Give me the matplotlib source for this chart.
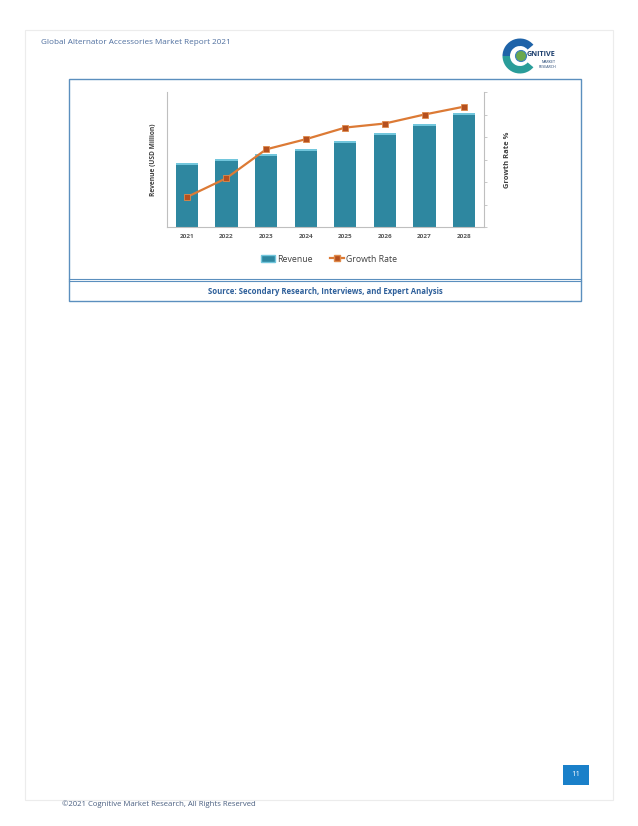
import matplotlib
matplotlib.use("Agg")
import matplotlib.pyplot as plt
from matplotlib.patches import Rectangle, Wedge, Circle, Patch
from matplotlib.lines import Line2D

plt.rcParams['font.family'] = ['Open Sans', 'DejaVu Sans']

# ---- data ----
years = ["2021", "2022", "2023", "2024", "2025", "2026", "2027", "2028"]
revenue = [64, 68, 73, 78, 86, 94, 103, 114]
growth = [1.33, 2.17, 3.45, 3.9, 4.42, 4.6, 5.0, 5.35]
header_text = "Global Alternator Accessories Market Report 2021"
source_text = "Source: Secondary Research, Interviews, and Expert Analysis"
footer_text = "\u00a92021 Cognitive Market Research, All Rights Reserved"
page_no = "11"

W, H = 638, 826
fig = plt.figure(figsize=(W / 100, H / 100), dpi=100)
fig.patch.set_facecolor("white")

# page overlay axes in pixel coordinates
pg = fig.add_axes([0, 0, 1, 1])
pg.set_xlim(0, W)
pg.set_ylim(H, 0)
pg.axis("off")

# page border
pg.add_patch(Rectangle((25, 30), 588, 770, fill=False, edgecolor="#ececec", lw=0.8))
# header text
pg.text(41, 43, header_text, fontsize=5.9, color="#4f6f9f", va="center", ha="left")

# logo (y axis inverted -> angles mirrored)
cx, cy = 520, 56
pg.add_patch(Wedge((cx, cy), 17.5, 40, 180, width=7.5, facecolor="#2a9d9a", edgecolor="none"))
pg.add_patch(Wedge((cx, cy), 17.5, 180, 320, width=7.5, facecolor="#1f63a8", edgecolor="none"))
pg.add_patch(Circle((cx + 1, cy), 5.5, facecolor="#6aa84f", edgecolor="#3a7fc0", lw=0.8))
pg.text(527, 55, "GNITIVE", fontsize=5.2, fontweight="bold", color="#1c3f6e", va="center", ha="left")
pg.text(556, 62, "MARKET", fontsize=2.6, color="#1c3f6e", va="center", ha="right")
pg.text(556, 66.5, "RESEARCH", fontsize=2.6, color="#1c3f6e", va="center", ha="right")

# chart box
box_col = "#5b8fbe"
pg.add_patch(Rectangle((69, 79), 512, 222, fill=False, edgecolor=box_col, lw=1.0))
pg.plot([69, 581], [279, 279], color=box_col, lw=0.8)
pg.plot([69, 581], [281, 281], color=box_col, lw=0.8)
pg.text(325, 291, source_text, fontsize=5.6, fontweight="bold", color="#2d5f9a",
        ha="center", va="center")

# page number box
pg.add_patch(Rectangle((563, 765), 26, 20, facecolor="#1a80c9", edgecolor="none"))
pg.text(576, 775, page_no, fontsize=5.5, color="white", ha="center", va="center")

# footer
pg.text(62, 804, footer_text, fontsize=5.6, color="#4a5f80", ha="left", va="center")

# ---- chart ----
ax = fig.add_axes([167 / W, 1 - 227 / H, 317 / W, 135 / H])
x = list(range(len(years)))
bar_col = "#2e87a0"
cap_col = "#72c6dc"
ax.bar(x, revenue, width=0.56, color=bar_col, zorder=2)
cap = 2.0
ax.bar(x, [cap] * len(revenue), width=0.56, bottom=[r - cap for r in revenue],
       color=cap_col, zorder=3)
ax.set_xlim(-0.5, len(years) - 0.5)
ax.set_ylim(0, 135)
ax.set_xticks(x)
ax.set_xticklabels(years, fontsize=4.6, color="#595959", fontweight="bold")
ax.tick_params(axis="x", length=0, pad=5)
ax.set_yticks([])
for s in ["top", "right"]:
    ax.spines[s].set_visible(False)
ax.spines["left"].set_color("#bfbfbf")
ax.spines["bottom"].set_color("#bfbfbf")
ax.set_ylabel("Revenue (USD Million)", fontsize=4.8, fontweight="bold", color="#404040", labelpad=7)

ax2 = ax.twinx()
line_col = "#dc7a35"
ax2.plot(x, growth, color=line_col, lw=1.6, marker="s", markersize=4.3,
         markerfacecolor="#b5501f", markeredgecolor="#e08a4a", markeredgewidth=0.6, zorder=4)
ax2.set_ylim(0, 6)
ax2.set_yticks([0, 1, 2, 3, 4, 5, 6])
ax2.set_yticklabels([])
ax2.tick_params(axis="y", length=2, color="#bfbfbf", width=0.6)
for s in ["top", "left", "bottom"]:
    ax2.spines[s].set_visible(False)
ax2.spines["right"].set_color("#bfbfbf")
ax2.set_ylabel("Growth Rate %", fontsize=5.4, fontweight="bold", color="#404040", labelpad=9)

handles = [Patch(facecolor=bar_col, edgecolor=cap_col, label="Revenue"),
           Line2D([0], [0], color=line_col, lw=1.6, marker="s", markersize=4,
                  markerfacecolor="#b5501f", markeredgecolor="#e08a4a", label="Growth Rate")]
fig.legend(handles=handles, loc="center", bbox_to_anchor=(329 / W, 1 - 259 / H), ncol=2,
           frameon=False, fontsize=6.3, handlelength=1.6, handletextpad=0.2, columnspacing=2.0,
           labelcolor="#404040")

fig.savefig("out.png", dpi=100, facecolor="white")
